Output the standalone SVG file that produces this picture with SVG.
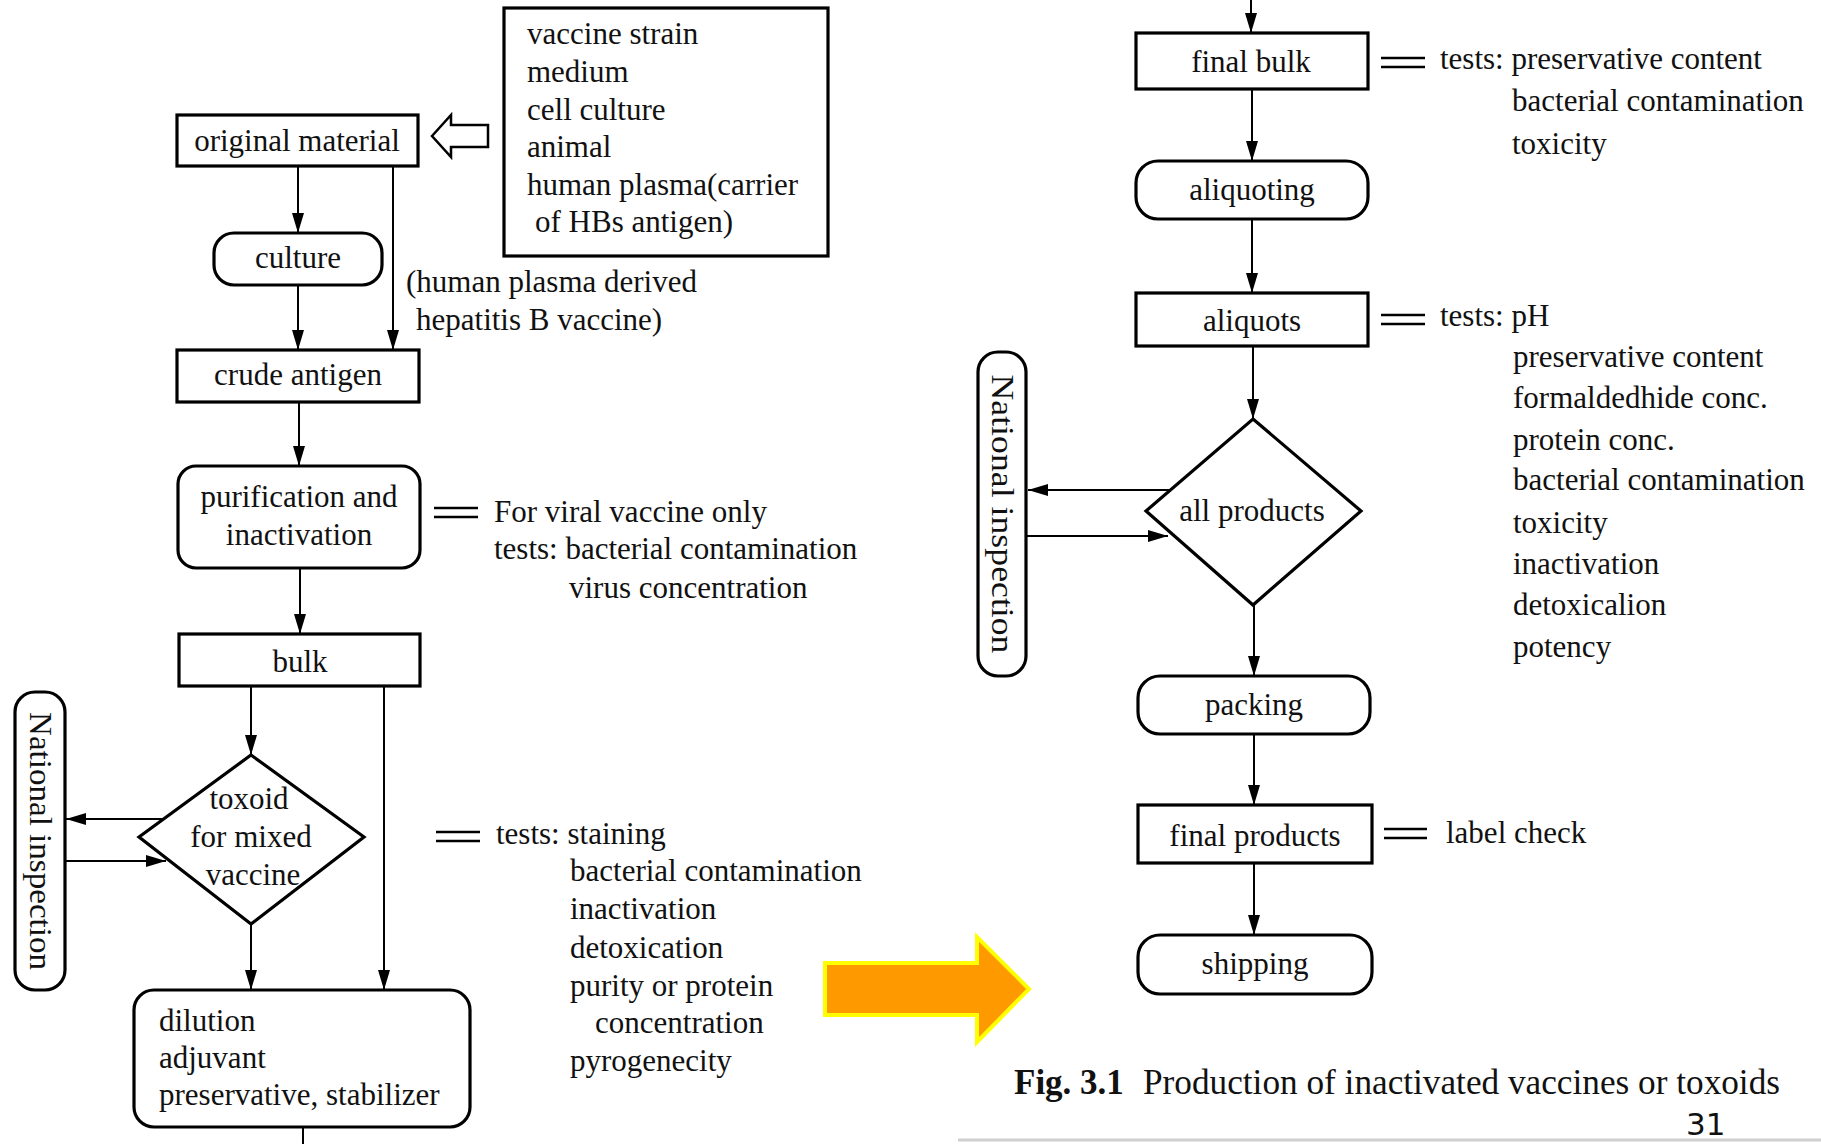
<svg xmlns="http://www.w3.org/2000/svg" width="1821" height="1144" viewBox="0 0 1821 1144">
<defs>
<marker id="ah" viewBox="0 0 20 12" refX="20" refY="6" markerWidth="20" markerHeight="12" orient="auto" markerUnits="userSpaceOnUse">
<path d="M0,0 L20,6 L0,12 z" fill="#000"/>
</marker>
<style>
.bx{fill:#fff;stroke:#000;stroke-width:3.2}
.t{font-family:"Liberation Serif","Times New Roman",serif;font-size:31px;fill:#111}
.c{text-anchor:middle}
.ln{fill:none;stroke:#000;stroke-width:2}
.ar{fill:none;stroke:#000;stroke-width:2;marker-end:url(#ah)}
.eq{stroke:#000;stroke-width:2.4}
</style>
</defs>
<rect width="1821" height="1144" fill="#fff"/>

<g id="connectors">
<line class="ar" x1="298" y1="166" x2="298" y2="233"/>
<line class="ar" x1="393" y1="166" x2="393" y2="350"/>
<line class="ar" x1="298" y1="285" x2="298" y2="350"/>
<line class="ar" x1="299" y1="402" x2="299" y2="466"/>
<line class="ar" x1="300" y1="568" x2="300" y2="634"/>
<line class="ar" x1="251" y1="686" x2="251" y2="755"/>
<line class="ar" x1="384" y1="686" x2="384" y2="990"/>
<line class="ar" x1="251" y1="924" x2="251" y2="990"/>
<line class="ar" x1="163" y1="819" x2="66" y2="819"/>
<line class="ar" x1="66" y1="861" x2="166" y2="861"/>
<line class="ln" x1="303" y1="1127" x2="303" y2="1144"/>

<line class="ar" x1="1251" y1="0" x2="1251" y2="33"/>
<line class="ar" x1="1252" y1="89" x2="1252" y2="161"/>
<line class="ar" x1="1252" y1="219" x2="1252" y2="293"/>
<line class="ar" x1="1253" y1="346" x2="1253" y2="419"/>
<line class="ar" x1="1254" y1="605" x2="1254" y2="676"/>
<line class="ar" x1="1254" y1="734" x2="1254" y2="805"/>
<line class="ar" x1="1254" y1="863" x2="1254" y2="935"/>
<line class="ar" x1="1170" y1="490" x2="1028" y2="490"/>
<line class="ar" x1="1027" y1="536" x2="1168" y2="536"/>

<polygon points="432,136 451,115 451,125 488,125 488,147 451,147 451,157" fill="#fff" stroke="#000" stroke-width="2.5" stroke-linejoin="miter"/>
</g>

<g id="materials">
<rect class="bx" x="504" y="8" width="324" height="248"/>
<text class="t" x="527" y="44">vaccine strain</text>
<text class="t" x="527" y="82">medium</text>
<text class="t" x="527" y="120">cell culture</text>
<text class="t" x="527" y="157">animal</text>
<text class="t" x="527" y="195">human plasma(carrier</text>
<text class="t" x="535" y="232">of HBs antigen)</text>
</g>

<g id="original-material">
<rect class="bx" x="177" y="115" width="241" height="51"/>
<text class="t c" x="297" y="151">original material</text>
</g>

<g id="culture">
<rect class="bx" x="214" y="233" width="168" height="52" rx="20"/>
<text class="t c" x="298" y="268">culture</text>
</g>

<g id="hbv-note">
<text class="t" x="406" y="292">(human plasma derived</text>
<text class="t" x="416" y="330">hepatitis B vaccine)</text>
</g>

<g id="crude-antigen">
<rect class="bx" x="177" y="350" width="242" height="52"/>
<text class="t c" x="298" y="385">crude antigen</text>
</g>

<g id="purification">
<rect class="bx" x="178" y="466" width="242" height="102" rx="18"/>
<text class="t c" x="299" y="507">purification and</text>
<text class="t c" x="299" y="545">inactivation</text>
</g>

<g id="purification-tests">
<line class="eq" x1="434" y1="508" x2="478" y2="508"/>
<line class="eq" x1="434" y1="517" x2="478" y2="517"/>
<text class="t" x="494" y="522">For viral vaccine only</text>
<text class="t" x="494" y="559">tests: bacterial contamination</text>
<text class="t" x="569" y="598">virus concentration</text>
</g>

<g id="bulk">
<rect class="bx" x="179" y="634" width="241" height="52"/>
<text class="t c" x="300" y="672">bulk</text>
</g>

<g id="toxoid">
<polygon class="bx" points="251,755 364,837 251,924 139,837"/>
<text class="t c" x="249" y="809">toxoid</text>
<text class="t c" x="251" y="847">for mixed</text>
<text class="t c" x="253" y="885">vaccine</text>
</g>

<g id="national-inspection-1">
<rect class="bx" x="15" y="692" width="50" height="298" rx="20"/>
<text class="t c" transform="translate(40,841) rotate(90)" y="10" textLength="258" lengthAdjust="spacingAndGlyphs">National inspection</text>
</g>

<g id="toxoid-tests">
<line class="eq" x1="436" y1="832" x2="480" y2="832"/>
<line class="eq" x1="436" y1="841" x2="480" y2="841"/>
<text class="t" x="496" y="844">tests: staining</text>
<text class="t" x="570" y="881">bacterial contamination</text>
<text class="t" x="570" y="919">inactivation</text>
<text class="t" x="570" y="958">detoxication</text>
<text class="t" x="570" y="996">purity or protein</text>
<text class="t" x="595" y="1033">concentration</text>
<text class="t" x="570" y="1071">pyrogenecity</text>
</g>

<g id="dilution">
<rect class="bx" x="134" y="990" width="336" height="137" rx="20"/>
<text class="t" x="159" y="1031">dilution</text>
<text class="t" x="159" y="1068">adjuvant</text>
<text class="t" x="159" y="1105">preservative, stabilizer</text>
</g>

<g id="continue-arrow">
<polygon points="825,963 977,963 977,937 1029,989 977,1042 977,1015 825,1015" fill="#FF9900" stroke="#FFFF00" stroke-width="4"/>
</g>

<g id="final-bulk">
<rect class="bx" x="1136" y="33" width="232" height="56"/>
<text class="t c" x="1251" y="72">final bulk</text>
</g>

<g id="final-bulk-tests">
<line class="eq" x1="1381" y1="58" x2="1425" y2="58"/>
<line class="eq" x1="1381" y1="67" x2="1425" y2="67"/>
<text class="t" x="1440" y="69">tests: preservative content</text>
<text class="t" x="1512" y="111">bacterial contamination</text>
<text class="t" x="1512" y="154">toxicity</text>
</g>

<g id="aliquoting">
<rect class="bx" x="1136" y="161" width="232" height="58" rx="22"/>
<text class="t c" x="1252" y="200">aliquoting</text>
</g>

<g id="aliquots">
<rect class="bx" x="1136" y="293" width="232" height="53"/>
<text class="t c" x="1252" y="331">aliquots</text>
</g>

<g id="aliquots-tests">
<line class="eq" x1="1381" y1="315" x2="1425" y2="315"/>
<line class="eq" x1="1381" y1="324" x2="1425" y2="324"/>
<text class="t" x="1440" y="326">tests: pH</text>
<text class="t" x="1513" y="367">preservative content</text>
<text class="t" x="1513" y="408">formaldedhide conc.</text>
<text class="t" x="1513" y="450">protein conc.</text>
<text class="t" x="1513" y="490">bacterial contamination</text>
<text class="t" x="1513" y="533">toxicity</text>
<text class="t" x="1513" y="574">inactivation</text>
<text class="t" x="1513" y="615">detoxicalion</text>
<text class="t" x="1513" y="657">potency</text>
</g>

<g id="all-products">
<polygon class="bx" points="1253,419 1361,511 1253,605 1146,511"/>
<text class="t c" x="1252" y="521">all products</text>
</g>

<g id="national-inspection-2">
<rect class="bx" x="978" y="352" width="48" height="324" rx="20"/>
<text class="t c" transform="translate(1002,514) rotate(90)" y="10" textLength="279" lengthAdjust="spacingAndGlyphs">National inspection</text>
</g>

<g id="packing">
<rect class="bx" x="1138" y="676" width="232" height="58" rx="22"/>
<text class="t c" x="1254" y="715">packing</text>
</g>

<g id="final-products">
<rect class="bx" x="1138" y="805" width="234" height="58"/>
<text class="t c" x="1255" y="846">final products</text>
</g>

<g id="final-products-tests">
<line class="eq" x1="1384" y1="829" x2="1427" y2="829"/>
<line class="eq" x1="1384" y1="838" x2="1427" y2="838"/>
<text class="t" x="1446" y="843">label check</text>
</g>

<g id="shipping">
<rect class="bx" x="1138" y="935" width="234" height="59" rx="22"/>
<text class="t c" x="1255" y="974">shipping</text>
</g>

<g id="caption">
<text x="1014" y="1094" style="font-family:'Liberation Serif','Times New Roman',serif;font-size:35px;font-weight:bold;fill:#111">Fig. 3.1</text>
<text x="1143" y="1094" textLength="637" lengthAdjust="spacingAndGlyphs" style="font-family:'Liberation Serif','Times New Roman',serif;font-size:35px;fill:#111">Production of inactivated vaccines or toxoids</text>
<text x="1686" y="1135" style="font-family:'DejaVu Sans',Verdana,sans-serif;font-size:31px;fill:#111">31</text>
<line x1="958" y1="1140" x2="1821" y2="1140" stroke="#d0d0d0" stroke-width="3"/>
</g>
</svg>
